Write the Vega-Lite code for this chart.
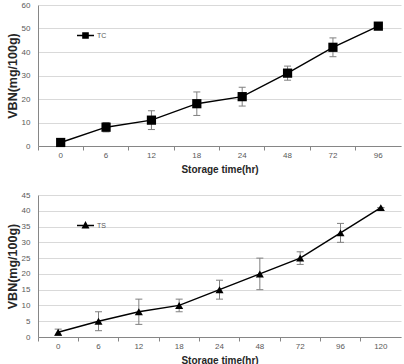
{
  "$schema": "https://vega.github.io/schema/vega-lite/v6.json",
  "padding": {"left": 6, "top": 1, "right": 4, "bottom": 0},
  "spacing": 17,
  "background": "white",
  "config": {
    "view": {"stroke": null},
    "font": "Liberation Sans",
    "axis": {
      "labelFont": "Liberation Sans",
      "labelFontSize": 8,
      "labelColor": "#595959",
      "titleFont": "Liberation Sans",
      "titleFontWeight": "bold",
      "titleColor": "#262626",
      "domainColor": "#868686",
      "tickColor": "#868686",
      "gridColor": "#d9d9d9"
    },
    "axisX": {"grid": false, "tickSize": 4, "labelPadding": 1, "titlePadding": 5, "labelAngle": 0, "bandPosition": 0, "titleFontSize": 10},
    "axisY": {"grid": true, "tickSize": 0, "labelPadding": 8, "titlePadding": 2, "domain": true, "titleFontSize": 12.5, "labelOverlap": false},
    "axisQuantitative": {"grid": true},
    "legend": {"labelFont": "Liberation Sans", "labelFontSize": 7, "labelColor": "#595959", "padding": 0}
  },
  "vconcat": [
    {
      "width": 363,
      "height": 141,
      "data": {"values": [
        {"time": 0, "vbn": 1.5, "lo": 1.5, "hi": 1.5, "series": "TC"},
        {"time": 6, "vbn": 8, "lo": 6, "hi": 10, "series": "TC"},
        {"time": 12, "vbn": 11, "lo": 7, "hi": 15, "series": "TC"},
        {"time": 18, "vbn": 18, "lo": 13, "hi": 23, "series": "TC"},
        {"time": 24, "vbn": 21, "lo": 17, "hi": 25, "series": "TC"},
        {"time": 48, "vbn": 31, "lo": 28, "hi": 34, "series": "TC"},
        {"time": 72, "vbn": 42, "lo": 38, "hi": 46, "series": "TC"},
        {"time": 96, "vbn": 51, "lo": 51, "hi": 51, "series": "TC"}
      ]},
      "encoding": {
        "x": {"field": "time", "type": "ordinal", "scale": {"type": "band", "paddingInner": 0, "paddingOuter": 0}, "title": "Storage time(hr)"},
        "y": {"field": "vbn", "type": "quantitative", "title": "VBN(mg/100g)", "scale": {"domain": [0, 60]}, "axis": {"grid": true, "tickCount": 6, "gridColor": "#d9d9d9", "gridOpacity": 1, "gridWidth": 1}}
      },
      "layer": [
        {
          "mark": {"type": "rule", "color": "#7f7f7f", "strokeWidth": 1},
          "encoding": {"y": {"field": "lo", "type": "quantitative"}, "y2": {"field": "hi"}}
        },
        {
          "mark": {"type": "tick", "color": "#7f7f7f", "thickness": 1, "size": 7, "opacity": 1},
          "encoding": {"y": {"field": "lo", "type": "quantitative"}}
        },
        {
          "mark": {"type": "tick", "color": "#7f7f7f", "thickness": 1, "size": 7, "opacity": 1},
          "encoding": {"y": {"field": "hi", "type": "quantitative"}}
        },
        {
          "mark": {"type": "line", "color": "black", "strokeWidth": 1.4}
        },
        {
          "mark": {"type": "point", "shape": "square", "filled": true, "opacity": 1, "size": 85},
          "encoding": {
            "color": {"field": "series", "type": "nominal", "scale": {"range": ["black"]},
              "legend": {"title": null, "orient": "none", "legendX": 38, "legendY": 21,
                "labelOffset": 2,
                "symbolType": "M-1,0L1,0M-0.3,-0.3L0.3,-0.3L0.3,0.3L-0.3,0.3Z",
                "symbolSize": 289, "symbolStrokeColor": "black", "symbolFillColor": "black", "symbolStrokeWidth": 1.5}}
          }
        }
      ]
    },
    {
      "width": 363,
      "height": 142,
      "data": {"values": [
        {"time": 0, "vbn": 1.5, "lo": 0.5, "hi": 2.5, "series": "TS"},
        {"time": 6, "vbn": 5, "lo": 2, "hi": 8, "series": "TS"},
        {"time": 12, "vbn": 8, "lo": 4, "hi": 12, "series": "TS"},
        {"time": 18, "vbn": 10, "lo": 8, "hi": 12, "series": "TS"},
        {"time": 24, "vbn": 15, "lo": 12, "hi": 18, "series": "TS"},
        {"time": 48, "vbn": 20, "lo": 15, "hi": 25, "series": "TS"},
        {"time": 72, "vbn": 25, "lo": 23, "hi": 27, "series": "TS"},
        {"time": 96, "vbn": 33, "lo": 30, "hi": 36, "series": "TS"},
        {"time": 120, "vbn": 41, "lo": 41, "hi": 41, "series": "TS"}
      ]},
      "encoding": {
        "x": {"field": "time", "type": "ordinal", "scale": {"type": "band", "paddingInner": 0, "paddingOuter": 0}, "title": "Storage time(hr)"},
        "y": {"field": "vbn", "type": "quantitative", "title": "VBN(mg/100g)", "scale": {"domain": [0, 45]}, "axis": {"grid": true, "tickCount": 9, "gridColor": "#d9d9d9", "gridOpacity": 1, "gridWidth": 1}}
      },
      "layer": [
        {
          "mark": {"type": "rule", "color": "#7f7f7f", "strokeWidth": 1},
          "encoding": {"y": {"field": "lo", "type": "quantitative"}, "y2": {"field": "hi"}}
        },
        {
          "mark": {"type": "tick", "color": "#7f7f7f", "thickness": 1, "size": 7, "opacity": 1},
          "encoding": {"y": {"field": "lo", "type": "quantitative"}}
        },
        {
          "mark": {"type": "tick", "color": "#7f7f7f", "thickness": 1, "size": 7, "opacity": 1},
          "encoding": {"y": {"field": "hi", "type": "quantitative"}}
        },
        {
          "mark": {"type": "line", "color": "black", "strokeWidth": 1.4}
        },
        {
          "mark": {"type": "point", "shape": "triangle-up", "filled": true, "opacity": 1, "size": 65},
          "encoding": {
            "color": {"field": "series", "type": "nominal", "scale": {"range": ["black"]},
              "legend": {"title": null, "orient": "none", "legendX": 38, "legendY": 21,
                "labelOffset": 2,
                "symbolType": "M-1,0L1,0M0,-0.35L0.32,0.25L-0.32,0.25Z",
                "symbolSize": 289, "symbolStrokeColor": "black", "symbolFillColor": "black", "symbolStrokeWidth": 1.5}}
          }
        }
      ]
    }
  ],
  "resolve": {"scale": {"color": "independent"}}
}
